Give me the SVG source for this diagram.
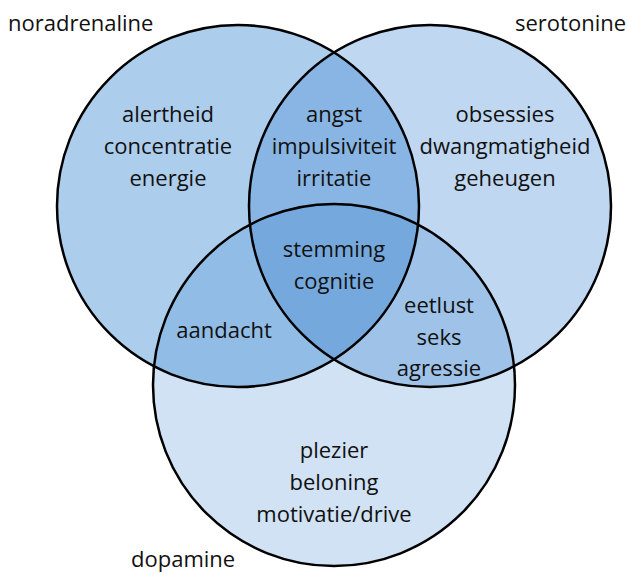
<svg xmlns="http://www.w3.org/2000/svg" width="628" height="574" viewBox="0 0 628 574">
<style>
text{font-family:"Open Sans","Noto Sans","DejaVu Sans",sans-serif;font-size:22px;fill:#111;text-anchor:middle}
.lbl{text-anchor:start}
.ring{fill:none;stroke:#000;stroke-width:2.5}
.fill{fill:#3c87d2;stroke:none}
</style>
<rect width="628" height="574" fill="#fff"/>
<g id="fills">
<circle class="fill" cx="238" cy="206" r="181" fill-opacity="0.42"/>
<circle class="fill" cx="430" cy="206" r="181" fill-opacity="0.33"/>
<circle class="fill" cx="334" cy="385" r="181" fill-opacity="0.24"/>
</g>
<g id="noradrenaline">
<circle class="ring" cx="238" cy="206" r="181"/>
<text class="lbl" x="8" y="31">noradrenaline</text>
<text x="168" y="122">alertheid</text>
<text x="168" y="154">concentratie</text>
<text x="168" y="186">energie</text>
</g>
<g id="serotonine">
<circle class="ring" cx="430" cy="206" r="181"/>
<text class="lbl" x="515" y="31">serotonine</text>
<text x="505" y="122">obsessies</text>
<text x="505" y="154">dwangmatigheid</text>
<text x="505" y="186">geheugen</text>
</g>
<g id="dopamine">
<circle class="ring" cx="334" cy="385" r="181"/>
<text class="lbl" x="131" y="567">dopamine</text>
<text x="334" y="458">plezier</text>
<text x="334" y="490">beloning</text>
<text x="334" y="522">motivatie/drive</text>
</g>
<g id="nor-sero">
<text x="334" y="122">angst</text>
<text x="334" y="154">impulsiviteit</text>
<text x="334" y="186">irritatie</text>
</g>
<g id="nor-dopa">
<text x="224" y="338">aandacht</text>
</g>
<g id="sero-dopa">
<text x="439" y="313">eetlust</text>
<text x="439" y="345">seks</text>
<text x="439" y="376">agressie</text>
</g>
<g id="all">
<text x="334" y="257">stemming</text>
<text x="334" y="289">cognitie</text>
</g>
<g id="connectors"></g>
</svg>
